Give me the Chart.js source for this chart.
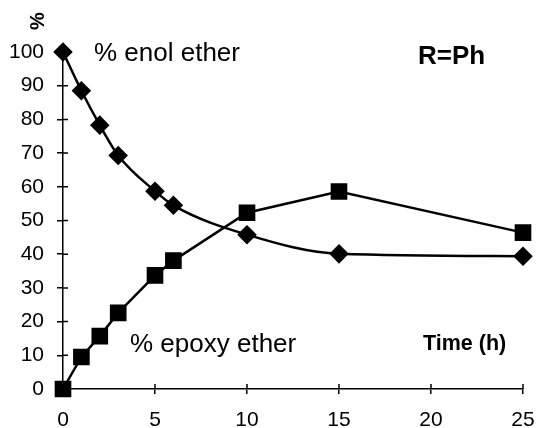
<!DOCTYPE html>
<html>
<head>
<meta charset="utf-8">
<script src="https://cdn.jsdelivr.net/npm/chart.js@4/dist/chart.umd.min.js"></script>
<style>
  html, body { margin: 0; padding: 0; background: #fff; }
</style>
</head>
<body>
<canvas id="chart" width="537" height="428"></canvas>
<script>
// --- DATA ---
const hours = [0, 1, 2, 3, 5, 6, 10, 15, 25];
const enolEther = [100, 88.5, 78.3, 69.3, 58.7, 54.5, 45.8, 40.1, 39.4];
const epoxyEther = [0, 9.5, 15.7, 22.6, 33.7, 38.1, 52.3, 58.6, 46.4];
const xTickValues = [0, 5, 10, 15, 20, 25];
const yTickValues = [0, 10, 20, 30, 40, 50, 60, 70, 80, 90, 100];

const FONT = "'Liberation Sans', Arial, sans-serif";

// ticks that cross the axis line (inner half)
const innerTicks = {
  id: 'innerTicks',
  afterDraw(chart) {
    const ctx = chart.ctx, x = chart.scales.x, y = chart.scales.y;
    const a = chart.chartArea;
    ctx.save();
    ctx.strokeStyle = '#000';
    ctx.lineWidth = 1.5;
    ctx.beginPath();
    x.ticks.forEach((t, i) => {
      const px = x.getPixelForTick(i);
      ctx.moveTo(px, a.bottom);
      ctx.lineTo(px, a.bottom - 5);
    });
    y.ticks.forEach((t, i) => {
      const py = y.getPixelForTick(i);
      ctx.moveTo(a.left, py);
      ctx.lineTo(a.left + 5, py);
    });
    ctx.stroke();
    ctx.restore();
  }
};

// text labels on the plot
const labels = {
  id: 'labels',
  afterDraw(chart) {
    const ctx = chart.ctx;
    ctx.save();
    ctx.fillStyle = '#000';
    ctx.textBaseline = 'middle';
    ctx.textAlign = 'left';
    ctx.font = '26px ' + FONT;
    ctx.fillText('% enol ether', 94, 54);
    ctx.fillText('% epoxy ether', 130, 345);
    ctx.font = 'bold 26px ' + FONT;
    ctx.fillText('R=Ph', 418, 57);
    ctx.font = 'bold 21.5px ' + FONT;
    ctx.fillText('Time (h)', 423, 344);
    // rotated axis unit
    ctx.translate(38, 21);
    ctx.rotate(-Math.PI / 2);
    ctx.textAlign = 'center';
    ctx.font = 'bold 20px ' + FONT;
    ctx.fillText('%', 0, 0);
    ctx.restore();
  }
};

const toPoints = (xs, ys) => xs.map((v, i) => ({ x: v, y: ys[i] }));

new Chart(document.getElementById('chart'), {
  type: 'line',
  data: {
    datasets: [
      {
        label: '% enol ether',
        data: toPoints(hours, enolEther),
        borderColor: '#000',
        backgroundColor: '#000',
        borderWidth: 2.5,
        pointStyle: 'rectRot',
        pointRadius: 8,
        pointHoverRadius: 8,
        cubicInterpolationMode: 'monotone',
        clip: false
      },
      {
        label: '% epoxy ether',
        data: toPoints(hours, epoxyEther),
        borderColor: '#000',
        backgroundColor: '#000',
        borderWidth: 2.5,
        pointStyle: 'rect',
        pointRadius: 10,
        pointHoverRadius: 10,
        tension: 0,
        clip: false
      }
    ]
  },
  options: {
    responsive: false,
    animation: false,
    devicePixelRatio: 1,
    layout: { padding: { top: 52, right: 14, left: 0, bottom: 0 } },
    plugins: {
      legend: { display: false },
      tooltip: { enabled: false }
    },
    scales: {
      x: {
        type: 'linear',
        min: 0,
        max: 25,
        afterBuildTicks: s => { s.ticks = xTickValues.map(v => ({ value: v })); },
        afterFit: s => { s.height = 39; s.paddingLeft = 0; s.paddingRight = 0; },
        border: { display: true, color: '#000', width: 1.5 },
        grid: { drawOnChartArea: false, drawTicks: true, tickLength: 5, color: '#000', lineWidth: 1.5 },
        ticks: { color: '#000', font: { family: FONT, size: 21 }, padding: 14, maxRotation: 0 }
      },
      y: {
        min: 0,
        max: 100,
        afterBuildTicks: s => { s.ticks = yTickValues.map(v => ({ value: v })); },
        afterFit: s => { s.width = 63; s.paddingTop = 0; s.paddingBottom = 0; },
        border: { display: true, color: '#000', width: 1.5 },
        grid: { drawOnChartArea: false, drawTicks: true, tickLength: 6, color: '#000', lineWidth: 1.5 },
        ticks: { color: '#000', font: { family: FONT, size: 21 }, padding: 13 }
      }
    }
  },
  plugins: [innerTicks, labels]
});
</script>
</body>
</html>
